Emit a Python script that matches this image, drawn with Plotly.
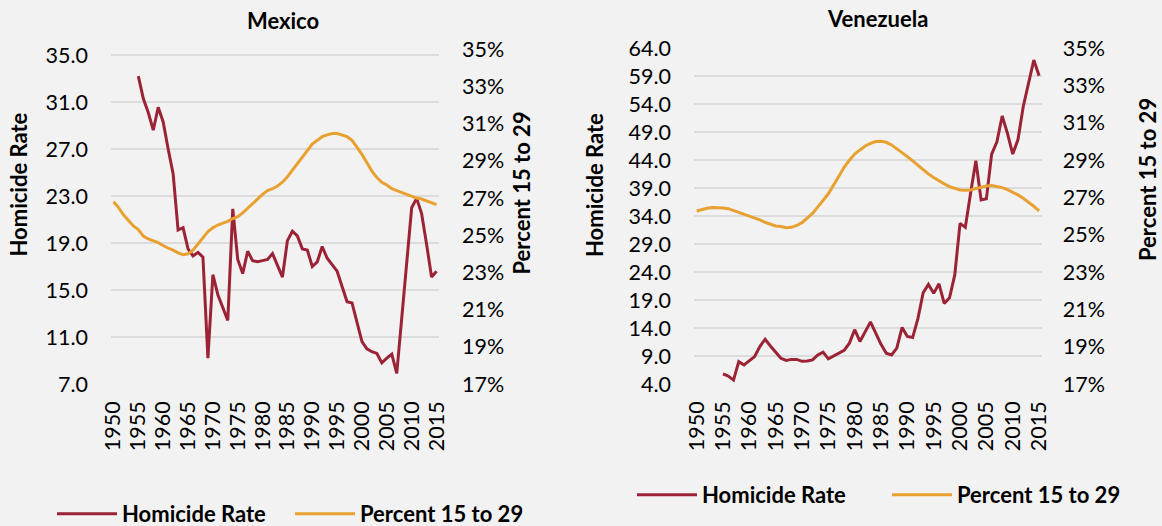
import plotly.graph_objects as go

W, H = 1162, 526

years = list(range(1950, 2016))
hom_years = list(range(1955, 2016))

mex_homicide = [33.2, 31.3, 30.1, 28.6, 30.55, 29.3, 27.0, 24.9, 20.1, 20.3,
                18.5, 17.9, 18.2, 17.8, 9.2, 16.3, 14.6, 13.5, 12.4, 21.9,
                17.6, 16.4, 18.3, 17.5, 17.4, 17.5, 17.6, 18.1, 17.1, 16.1,
                19.2, 20.0, 19.6, 18.5, 18.4, 17.0, 17.4, 18.7, 17.7, 17.1,
                16.6, 15.3, 14.0, 13.9, 12.2, 10.6, 10.0, 9.75, 9.6, 8.8,
                9.2, 9.55, 7.9, 12.6, 17.4, 22.0, 22.8, 21.5, 18.9, 16.1,
                16.6]
mex_percent = [26.8, 26.5, 26.1, 25.8, 25.5, 25.3, 24.95, 24.8, 24.7, 24.6,
               24.45, 24.3, 24.2, 24.05, 23.95, 24.0, 24.2, 24.55, 24.9, 25.2,
               25.4, 25.55, 25.65, 25.75, 25.9, 26.0, 26.2, 26.45, 26.75, 27.0,
               27.2, 27.4, 27.5, 27.65, 27.85, 28.15, 28.5, 28.85, 29.2, 29.6,
               29.9, 30.1, 30.3, 30.4, 30.47, 30.47, 30.4, 30.3, 30.1, 29.75,
               29.35, 28.9, 28.45, 28.1, 27.85, 27.7, 27.5, 27.4, 27.3, 27.2,
               27.1, 27.0, 26.95, 26.85, 26.75, 26.65]

ven_homicide = [5.8, 5.4, 4.7, 8.0, 7.4, 8.1, 8.9, 10.7, 12.0, 10.8,
                9.7, 8.6, 8.2, 8.4, 8.4, 8.05, 8.1, 8.3, 9.2, 9.7,
                8.5, 9.0, 9.5, 10.0, 11.3, 13.7, 11.6, 13.5, 15.1, 13.1,
                11.1, 9.5, 9.2, 10.4, 14.1, 12.5, 12.3, 15.7, 20.3, 21.8,
                20.2, 21.9, 18.4, 19.4, 23.5, 32.7, 32.0, 38.1, 43.9, 36.9,
                37.1, 45.1, 47.3, 51.9, 48.8, 45.1, 47.7, 53.6, 57.7, 61.9,
                59.1]
ven_percent = [26.28, 26.37, 26.42, 26.46, 26.46, 26.44, 26.4, 26.3, 26.19, 26.1,
               26.0, 25.92, 25.8, 25.67, 25.55, 25.47, 25.44, 25.38, 25.4, 25.5,
               25.65, 25.88, 26.15, 26.5, 26.87, 27.2, 27.67, 28.15, 28.62, 29.0,
               29.33, 29.55, 29.76, 29.9, 30.0, 30.01, 29.96, 29.82, 29.62, 29.4,
               29.19, 28.96, 28.71, 28.48, 28.26, 28.07, 27.89, 27.73, 27.58, 27.48,
               27.4, 27.39, 27.4, 27.48, 27.56, 27.62, 27.64, 27.6, 27.53, 27.42,
               27.3, 27.14, 26.96, 26.76, 26.53, 26.28]

x_ticks = list(range(1950, 2016, 5))
mex_left_ticks = [7, 11, 15, 19, 23, 27, 31, 35]
ven_left_ticks = [4, 9, 14, 19, 24, 29, 34, 39, 44, 49, 54, 59, 64]
right_ticks = [0.17, 0.19, 0.21, 0.23, 0.25, 0.27, 0.29, 0.31, 0.33, 0.35]

RED = "#9b2335"
ORANGE = "#e8a030"
BG = "#f2f2f2"
GRID = "#dcdcdc"
FONT = "Lato"


def px(x):
    return x / W


def py(y):
    return 1 - y / H


fig = go.Figure()

fig.add_trace(go.Scatter(x=hom_years, y=mex_homicide, name="Homicide Rate",
                         mode="lines", line=dict(color=RED, width=3),
                         xaxis="x", yaxis="y", legend="legend"))
fig.add_trace(go.Scatter(x=years, y=[v / 100 for v in mex_percent], name="Percent 15 to 29",
                         mode="lines", line=dict(color=ORANGE, width=3),
                         xaxis="x", yaxis="y2", legend="legend"))
fig.add_trace(go.Scatter(x=hom_years, y=ven_homicide, name="Homicide Rate",
                         mode="lines", line=dict(color=RED, width=3),
                         xaxis="x2", yaxis="y3", legend="legend2"))
fig.add_trace(go.Scatter(x=years, y=[v / 100 for v in ven_percent], name="Percent 15 to 29",
                         mode="lines", line=dict(color=ORANGE, width=3),
                         xaxis="x2", yaxis="y4", legend="legend2"))

tick_font = dict(family=FONT, size=21.5, color="#000000")
bold_font = dict(family=FONT, size=22, color="#000000", weight="bold")

xcommon = dict(range=[1949.5, 2015.5], tickvals=x_ticks, tickangle=-90,
               showgrid=False, zeroline=False, showline=False, ticks="",
               tickfont=tick_font, ticklabelstandoff=12, automargin=False)

mex_top, mex_bot = 49.3, 384
mex_top_val = 35 + (55 - mex_top) / 47 * 4
ven_top, ven_bot = 48.3, 384

fig.update_layout(
    template="none",
    width=W, height=H, autosize=False,
    margin=dict(l=0, r=0, t=0, b=0, pad=0, autoexpand=False),
    paper_bgcolor=BG, plot_bgcolor=BG,
    font=dict(family=FONT, size=21, color="#000000"),
    xaxis=dict(domain=[px(111), px(439)], anchor="y", **xcommon),
    yaxis=dict(domain=[py(mex_bot), py(mex_top)], range=[7, mex_top_val],
               tickvals=mex_left_ticks, tickformat=".1f", showgrid=True,
               gridcolor=GRID, gridwidth=2, zeroline=False, showline=False,
               ticks="", tickfont=tick_font, ticklabelstandoff=22, anchor="x",
               automargin=False),
    yaxis2=dict(domain=[py(mex_bot), py(mex_top)], range=[0.17, 0.35],
                tickvals=right_ticks, tickformat=".0%", overlaying="y", side="right",
                showgrid=False, zeroline=False, showline=False, ticks="",
                tickfont=tick_font, ticklabelstandoff=22, anchor="x",
                automargin=False),
    xaxis2=dict(domain=[px(694), px(1041.7)], anchor="y3", **xcommon),
    yaxis3=dict(domain=[py(ven_bot), py(ven_top)], range=[4, 64],
                tickvals=ven_left_ticks, tickformat=".1f", showgrid=True,
                gridcolor=GRID, gridwidth=2, zeroline=False, showline=False,
                ticks="", tickfont=tick_font, ticklabelstandoff=22, anchor="x2",
                automargin=False),
    yaxis4=dict(domain=[py(ven_bot), py(ven_top)], range=[0.17, 0.35],
                tickvals=right_ticks, tickformat=".0%", overlaying="y3", side="right",
                showgrid=False, zeroline=False, showline=False, ticks="",
                tickfont=tick_font, ticklabelstandoff=20, anchor="x2",
                automargin=False),
    legend=dict(orientation="h", x=px(52), y=py(514), xanchor="left", yanchor="middle",
                xref="container", yref="container",
                font=bold_font, bgcolor="rgba(0,0,0,0)", itemwidth=60,
                entrywidth=163, entrywidthmode="pixels"),
    legend2=dict(orientation="h", x=px(632), y=py(495), xanchor="left", yanchor="middle",
                 xref="container", yref="container",
                 font=bold_font, bgcolor="rgba(0,0,0,0)", itemwidth=60,
                 entrywidth=180, entrywidthmode="pixels"),
    showlegend=True,
)

annotations = [
    dict(text="Mexico", x=px(283), y=py(20.5), xref="paper", yref="paper",
         showarrow=False, font=bold_font, xanchor="center", yanchor="middle"),
    dict(text="Venezuela", x=px(877.5), y=py(18.5), xref="paper", yref="paper",
         showarrow=False, font=bold_font, xanchor="center", yanchor="middle"),
    dict(text="Homicide Rate", x=px(18.5), y=py(185), xref="paper", yref="paper",
         showarrow=False, font=bold_font, textangle=-90, xanchor="center", yanchor="middle"),
    dict(text="Percent 15 to 29", x=px(521.5), y=py(193), xref="paper", yref="paper",
         showarrow=False, font=bold_font, textangle=-90, xanchor="center", yanchor="middle"),
    dict(text="Homicide Rate", x=px(595), y=py(185), xref="paper", yref="paper",
         showarrow=False, font=bold_font, textangle=-90, xanchor="center", yanchor="middle"),
    dict(text="Percent 15 to 29", x=px(1147), y=py(180), xref="paper", yref="paper",
         showarrow=False, font=bold_font, textangle=-90, xanchor="center", yanchor="middle"),
]
fig.update_layout(annotations=annotations)

fig.write_html("out.html", config={"displayModeBar": False},
               post_script="document.body.style.margin='0';document.body.style.background='#f2f2f2';")
